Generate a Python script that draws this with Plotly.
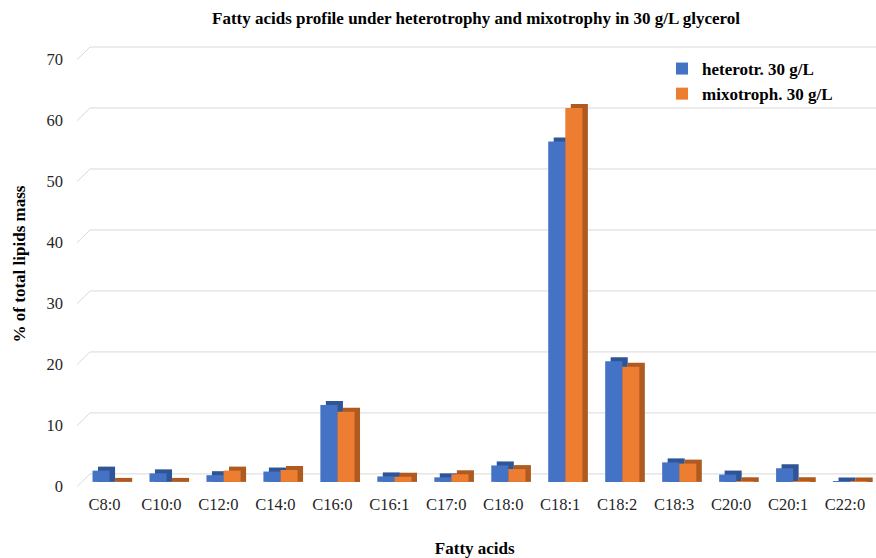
import plotly.graph_objects as go

# data (% of total lipids mass)
fatty_acids = ["C8:0", "C10:0", "C12:0", "C14:0", "C16:0", "C16:1", "C17:0",
               "C18:0", "C18:1", "C18:2", "C18:3", "C20:0", "C20:1", "C22:0"]
heterotr_30 = [1.85, 1.4, 1.1, 1.7, 12.6, 0.9, 0.75, 2.7, 55.8, 19.8, 3.2, 1.2, 2.25, 0.05]
mixotroph_30 = [0.0, 0.0, 1.85, 1.95, 11.5, 0.85, 1.25, 2.1, 61.3, 18.9, 3.0, 0.1, 0.1, 0.05]
y_ticks = [0, 10, 20, 30, 40, 50, 60, 70]

FONT = "Liberation Serif"
BLUE, BLUE_DARK = "#4472C4", "#2F5597"
ORANGE, ORANGE_DARK = "#ED7D31", "#AE5A21"
GRID = "#d9d9d9"

PX_PER_UNIT = 6.1          # vertical scale of the front plane
Y_MIN = -1.0
Y_MAX = 442 / PX_PER_UNIT  # bar base sits 442px below the plot top
BAR_W = 0.30               # bar width in category units
DEPTH_X = 0.096            # 3d side depth (category units)
DEPTH_Y = 4 / PX_PER_UNIT  # 3d top depth (value units)
GRID_SHIFT = 8 / PX_PER_UNIT
LABEL_SHIFT = 4.7 / PX_PER_UNIT

fig = go.Figure()

series = [
    ("<b>heterotr. 30 g/L</b>", heterotr_30, BLUE, BLUE_DARK, -0.21),
    ("<b>mixotroph. 30 g/L</b>", mixotroph_30, ORANGE, ORANGE_DARK, -0.21 + BAR_W),
]

# darker boxes first: they show as the top and side faces of the 3d bars
for name, vals, col, dark, off in series:
    fig.add_trace(go.Bar(
        x=fatty_acids, y=[v + DEPTH_Y for v in vals], base=0,
        offset=off + DEPTH_X, width=BAR_W,
        marker=dict(color=dark, line=dict(width=0)),
        showlegend=False, hoverinfo="skip",
    ))

for i, (name, vals, col, dark, off) in enumerate(series):
    fig.add_trace(go.Bar(
        x=fatty_acids, y=vals, name=name, legendgroup=str(i),
        offset=off, width=BAR_W,
        marker=dict(color=col, line=dict(width=0)),
    ))

# back-wall gridlines and the short diagonal floor edges at the left
shapes = []
for v in y_ticks:
    shapes.append(dict(
        type="line", xref="paper", yref="y", layer="below",
        x0=14 / 800, x1=1, y0=v + GRID_SHIFT, y1=v + GRID_SHIFT,
        line=dict(color=GRID, width=1),
    ))
    shapes.append(dict(
        type="line", xref="paper", yref="y", layer="below",
        x0=1 / 800, x1=14 / 800, y0=v - LABEL_SHIFT, y1=v + GRID_SHIFT,
        line=dict(color=GRID, width=1),
    ))

plot_h = 442 + int(-Y_MIN * PX_PER_UNIT)

fig.update_layout(
    width=876, height=558,
    margin=dict(l=76, r=0, t=40, b=558 - 40 - plot_h),
    plot_bgcolor="white", paper_bgcolor="white",
    barmode="overlay",
    font=dict(family=FONT, color="#262626"),
    title=dict(
        text="<b>Fatty acids profile under heterotrophy and mixotrophy in 30 g/L glycerol</b>",
        x=0.5, xref="paper", xanchor="center",
        y=(558 - 18) / 558, yref="container", yanchor="middle",
        font=dict(family=FONT, size=17, color="#000000"),
    ),
    xaxis=dict(
        domain=[0, 797.5 / 800], range=[-0.5, 13.5], automargin=False,
        showgrid=False, zeroline=False, showline=False, ticks="",
        tickfont=dict(family=FONT, size=16.5, color="#262626"),
        ticklabelstandoff=4,
        title=dict(text="<b>Fatty acids</b>", standoff=29,
                   font=dict(family=FONT, size=17, color="#000000")),
    ),
    yaxis=dict(
        range=[Y_MIN, Y_MAX], automargin=False,
        tickvals=[v - LABEL_SHIFT for v in y_ticks],
        ticktext=[str(v) for v in y_ticks],
        showgrid=False, zeroline=False, showline=False, ticks="",
        ticklabelstandoff=12,
        tickfont=dict(family=FONT, size=16.5, color="#262626"),
        title=dict(text="<b>% of total lipids mass</b>", standoff=16,
                   font=dict(family=FONT, size=17, color="#000000")),
    ),
    legend=dict(
        x=(662 - 76) / 800, y=(482 - 45) / plot_h, xanchor="left", yanchor="top",
        bgcolor="rgba(0,0,0,0)", tracegroupgap=0, itemwidth=30,
        font=dict(family=FONT, size=17, color="#000000"),
    ),
    shapes=shapes,
)

# drop the default 8px page margin so the figure fills the window
fig.write_html(
    "out.html",
    config={"displayModeBar": False},
    post_script="document.body.style.margin='0';",
)
